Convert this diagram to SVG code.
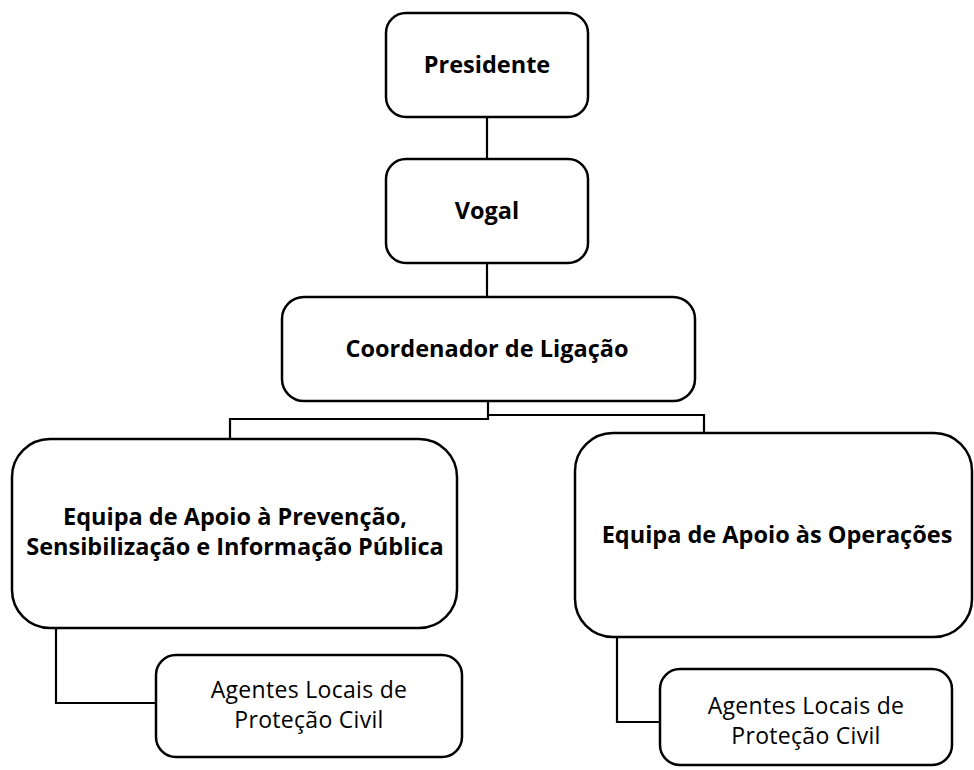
<svg xmlns="http://www.w3.org/2000/svg" width="974" height="770" viewBox="0 0 974 770">
<style>
.box{fill:#fff;stroke:#000;stroke-width:2.5}
.conn{fill:none;stroke:#000;stroke-width:2.2}
.b{font-family:"Open Sans","Noto Sans",sans-serif;font-weight:bold;font-size:23.5px;fill:#000;text-anchor:middle}
.r{font-family:"Open Sans","Noto Sans",sans-serif;font-size:23px;letter-spacing:0.3px;fill:#000;text-anchor:middle}
</style>
<rect width="974" height="770" fill="#fff"/>
<g id="connectors">
<path class="conn" d="M487 117V159"/>
<path class="conn" d="M487 263V297"/>
<path class="conn" d="M488 401V419H230V439"/>
<path class="conn" d="M488 415H704V433"/>
<path class="conn" d="M56 628V703H156"/>
<path class="conn" d="M617 637V722H660"/>
</g>
<g id="presidente">
<rect class="box" x="386" y="13" width="202" height="104" rx="20"/>
<text class="b" x="487" y="73">Presidente</text>
</g>
<g id="vogal">
<rect class="box" x="386" y="159" width="202" height="104" rx="20"/>
<text class="b" x="487" y="219">Vogal</text>
</g>
<g id="coordenador">
<rect class="box" x="282" y="297" width="413" height="104" rx="22"/>
<text class="b" x="487" y="357">Coordenador de Ligação</text>
</g>
<g id="equipa-prevencao">
<rect class="box" x="12" y="439" width="445" height="189" rx="38"/>
<text class="b" x="235" y="525">Equipa de Apoio à Prevenção,</text>
<text class="b" x="235" y="555">Sensibilização e Informação Pública</text>
</g>
<g id="equipa-operacoes">
<rect class="box" x="575" y="433" width="397" height="204" rx="38"/>
<text class="b" x="777" y="543">Equipa de Apoio às Operações</text>
</g>
<g id="agentes-1">
<rect class="box" x="156" y="655" width="306" height="102" rx="20"/>
<text class="r" x="309" y="698">Agentes Locais de</text>
<text class="r" x="309" y="728">Proteção Civil</text>
</g>
<g id="agentes-2">
<rect class="box" x="660" y="669" width="292" height="96" rx="20"/>
<text class="r" x="806" y="714">Agentes Locais de</text>
<text class="r" x="806" y="744">Proteção Civil</text>
</g>
</svg>
